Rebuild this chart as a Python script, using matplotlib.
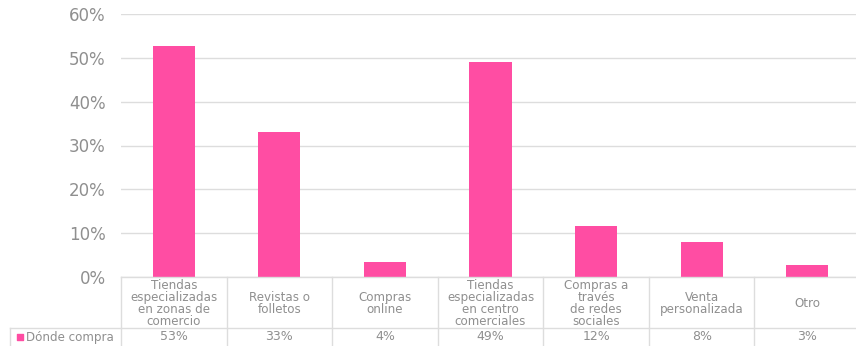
import matplotlib.pyplot as plt
from matplotlib.ticker import PercentFormatter

categorias = [
    "Tiendas\nespecializadas\nen zonas de\ncomercio",
    "Revistas o\nfolletos",
    "Compras\nonline",
    "Tiendas\nespecializadas\nen centro\ncomerciales",
    "Compras a\ntravés\nde redes\nsociales",
    "Venta\npersonalizada",
    "Otro",
]
donde_compra = [0.526, 0.33, 0.035, 0.49, 0.116, 0.079, 0.028]
serie = "Dónde compra"

rosa = "#FF4DA3"
gris_txt = "#8F8F8F"
gris_lin = "#DDDDDD"

W, H = 856, 346
fig = plt.figure(figsize=(W / 100, H / 100), dpi=100)

# area del grafico (pixeles de la imagen)
x0, x1 = 121, 860
y_top, y_base = 14, 277
ax = fig.add_axes([x0 / W, 1 - y_base / H, (x1 - x0) / W, (y_base - y_top) / H])
n = len(categorias)
xs = range(n)
ax.bar(xs, donde_compra, width=0.4, color=rosa, zorder=3)
ax.set_xlim(-0.5, n - 0.5)
ax.set_ylim(0, 0.6)
ax.set_yticks([0, 0.1, 0.2, 0.3, 0.4, 0.5, 0.6])
ax.yaxis.set_major_formatter(PercentFormatter(1.0, decimals=0))
ax.tick_params(axis="y", length=0, pad=11, labelsize=12, labelcolor=gris_txt)
ax.set_xticks([])
ax.grid(axis="y", color=gris_lin, linewidth=1, zorder=0)
for s in ax.spines.values():
    s.set_visible(False)

# tabla de datos debajo del eje
y_bot = 345
tab = fig.add_axes([x0 / W, 1 - y_bot / H, (x1 - x0) / W, (y_bot - y_base) / H])
tab.set_xlim(-0.5, n - 0.5)
tab.set_ylim(y_bot - y_base, 0)
tab.axis("off")
col = (x1 - x0) / n
fila = 51
left = -0.5 - (x0 - 10) / col

tab.plot([-0.5, n - 0.5], [0, 0], color=gris_lin, lw=1, clip_on=False)
tab.plot([left, n - 0.5], [fila, fila], color=gris_lin, lw=1, clip_on=False)
tab.plot([left, left], [fila, y_bot - y_base], color=gris_lin, lw=1, clip_on=False)
for i in range(n):
    tab.plot([i - 0.5, i - 0.5], [0, y_bot - y_base], color=gris_lin, lw=1, clip_on=False)

for i, (c, v) in enumerate(zip(categorias, donde_compra)):
    tab.text(i, fila / 2 + 1, c, ha="center", va="center", fontsize=8.6,
             color=gris_txt, linespacing=0.93)
    tab.text(i, (fila + y_bot - y_base) / 2 + 0.5, f"{v * 100:.0f}%", ha="center",
             va="center", fontsize=9, color=gris_txt)

# leyenda en la tabla
tab.scatter([left + 0.09], [(fila + y_bot - y_base) / 2], marker="s", s=22,
            color=rosa, clip_on=False)
tab.text(left + 0.15, (fila + y_bot - y_base) / 2 + 0.5, serie, ha="left",
         va="center", fontsize=8.6, color=gris_txt)

fig.savefig("out.png", dpi=100)
